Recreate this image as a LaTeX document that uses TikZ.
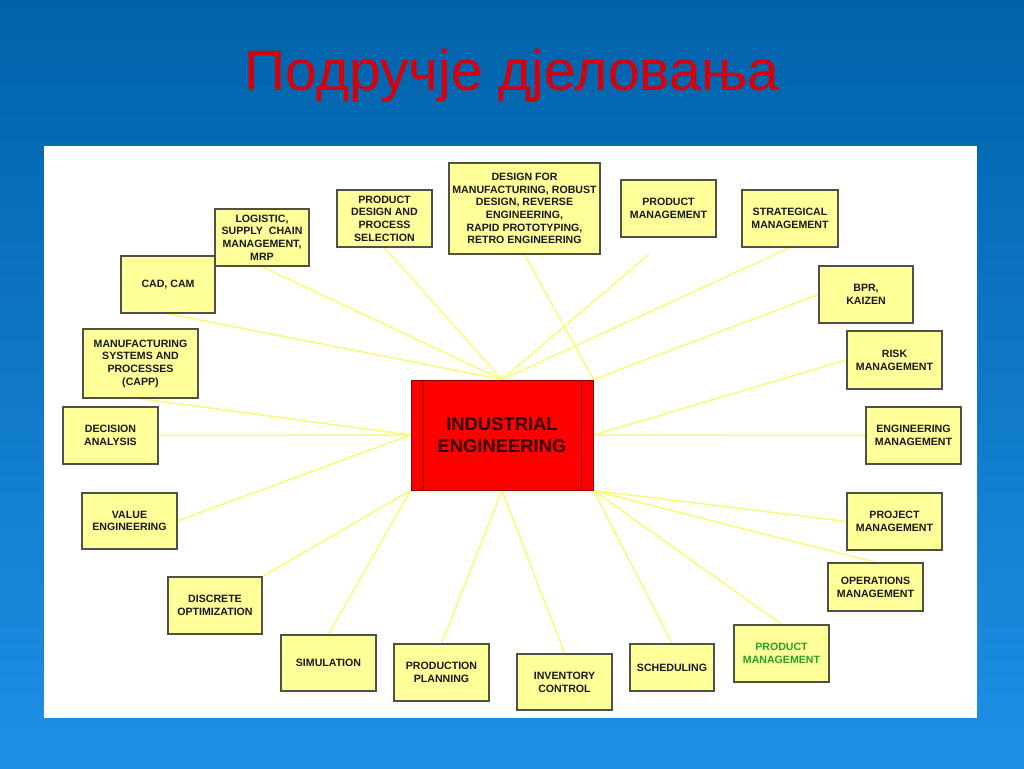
\documentclass[tikz,border=0pt]{standalone}
\usepackage{fontspec}
\setmainfont{Liberation Sans}
\usetikzlibrary{backgrounds,calc}
\definecolor{bgtop}{RGB}{0,98,170}
\definecolor{bgbot}{RGB}{30,144,230}
\definecolor{titlered}{RGB}{215,0,10}
\definecolor{boxfill}{RGB}{255,255,153}
\definecolor{boxline}{RGB}{80,80,70}
\definecolor{linkcol}{RGB}{250,250,120}
\definecolor{iered}{RGB}{255,0,0}
\definecolor{ieline}{RGB}{150,0,0}
\definecolor{ietext}{RGB}{50,0,0}
\definecolor{txtgreen}{RGB}{40,160,40}
\tikzset{
  ybox/.style={draw=boxline, line width=1.3pt, fill=boxfill, inner sep=0pt, align=center,
    font=\fontsize{10.6}{12.7}\selectfont\bfseries, text=black!90},
  link/.style={draw=linkcol, line width=1.5pt},
  iebox/.style={draw=ieline, line width=1pt, fill=iered, inner sep=0pt, align=center,
    minimum width=182pt, minimum height=110pt,
    font=\fontsize{18.4}{22}\selectfont\bfseries, text=ietext}
}
\begin{document}
\begin{tikzpicture}[x=1pt,y=-1pt]
\useasboundingbox (0,0) rectangle (1024,768);
\begin{scope}[on background layer]
  \shade[top color=bgtop, bottom color=bgbot] (0,0) rectangle (1024,768);
  \fill[white] (44,146) rectangle (977,718);
\end{scope}
\node[text=titlered, font=\fontsize{57}{60}\selectfont, anchor=base] (title) at (512,90) {Подручје дјеловања};

\node[iebox] (ie) at (502,435) {INDUSTRIAL\\ENGINEERING};
\draw[ieline, line width=1pt] (423,380) -- (423,490) (581,380) -- (581,490);

\node[ybox, minimum width=94pt, minimum height=57pt] (log) at (262,237.5) {LOGISTIC,\\SUPPLY\ \ CHAIN\\MANAGEMENT,\\MRP};
\node[ybox, minimum width=95pt, minimum height=57pt] (pds) at (384.5,218.5) {PRODUCT\\DESIGN AND\\PROCESS\\SELECTION};
\node[ybox, minimum width=151pt, minimum height=91pt] (dfm) at (524.5,208.5) {DESIGN FOR\\MANUFACTURING, ROBUST\\DESIGN, REVERSE\\ENGINEERING,\\RAPID PROTOTYPING,\\RETRO ENGINEERING};
\node[ybox, minimum width=95pt, minimum height=57pt] (pmtop) at (668.5,208.5) {PRODUCT\\MANAGEMENT};
\node[ybox, minimum width=96pt, minimum height=57pt] (str) at (790,218.5) {STRATEGICAL\\MANAGEMENT};
\node[ybox, minimum width=94pt, minimum height=57pt] (bpr) at (866,294.5) {BPR,\\KAIZEN};
\node[ybox, minimum width=95pt, minimum height=58pt] (risk) at (894.5,360) {RISK\\MANAGEMENT};
\node[ybox, minimum width=95pt, minimum height=57pt] (eng) at (913.5,435.5) {ENGINEERING\\MANAGEMENT};
\node[ybox, minimum width=95pt, minimum height=57pt] (proj) at (894.5,521.5) {PROJECT\\MANAGEMENT};
\node[ybox, minimum width=95pt, minimum height=48pt] (ops) at (875.5,587) {OPERATIONS\\MANAGEMENT};
\node[ybox, minimum width=95pt, minimum height=57pt, text=txtgreen] (pmbot) at (781.5,653.5) {PRODUCT\\MANAGEMENT};
\node[ybox, minimum width=84pt, minimum height=47pt] (sch) at (672,667.5) {SCHEDULING};
\node[ybox, minimum width=95pt, minimum height=56pt] (inv) at (564.5,682) {INVENTORY\\CONTROL};
\node[ybox, minimum width=95pt, minimum height=57pt] (pp) at (441.5,672.5) {PRODUCTION\\PLANNING};
\node[ybox, minimum width=95pt, minimum height=56pt] (sim) at (328.5,663) {SIMULATION};
\node[ybox, minimum width=94pt, minimum height=57pt] (disc) at (215,605.5) {DISCRETE\\OPTIMIZATION};
\node[ybox, minimum width=95pt, minimum height=56pt] (val) at (129.5,521) {VALUE\\ENGINEERING};
\node[ybox, minimum width=95pt, minimum height=57pt] (dec) at (110.5,435.5) {DECISION\\ANALYSIS};
\node[ybox, minimum width=115pt, minimum height=69pt] (man) at (140.5,363.5) {MANUFACTURING\\SYSTEMS AND\\PROCESSES\\(CAPP)};
\node[ybox, minimum width=94pt, minimum height=57pt] (cad) at (168,284.5) {CAD, CAM};

\coordinate (pmend) at ($(ie.north)!0.88!(pmtop.south)$);

\begin{scope}[on background layer]
  \draw[link] (log.south) -- (ie.north);
  \draw[link] (cad.south) -- (ie.north);
  \draw[link] (pds.south) -- (ie.north);
  \draw[link] (dfm.south) -- (ie.north east);
  \draw[link] (pmend) -- (ie.north);
  \draw[link] (str.south) -- (ie.north);
  \draw[link] (bpr.west) -- (ie.north east);
  \draw[link] (risk.west) -- (ie.east);
  \draw[link] (eng.west) -- (ie.east);
  \draw[link] (proj.west) -- (ie.south east);
  \draw[link] (ops.north) -- (ie.south east);
  \draw[link] (pmbot.north) -- (ie.south east);
  \draw[link] (sch.north) -- (ie.south east);
  \draw[link] (inv.north) -- (ie.south);
  \draw[link] (pp.north) -- (ie.south);
  \draw[link] (sim.north) -- (ie.south west);
  \draw[link] (disc.north east) -- (ie.south west);
  \draw[link] (val.east) -- (ie.west);
  \draw[link] (dec.east) -- (ie.west);
  \draw[link] (man.south) -- (ie.west);
\end{scope}
\end{tikzpicture}
\end{document}
